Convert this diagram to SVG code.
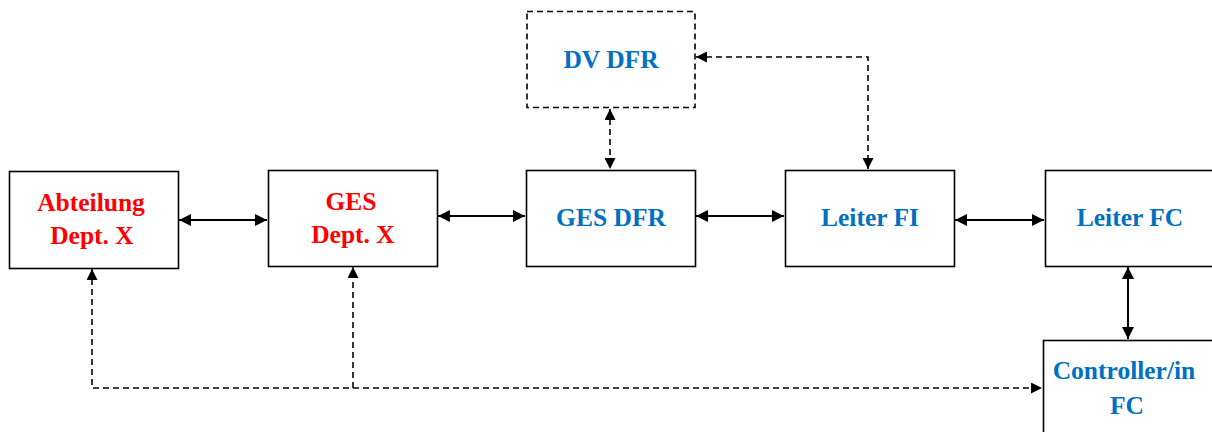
<svg xmlns="http://www.w3.org/2000/svg" width="1212" height="432" viewBox="0 0 1212 432">
  <style>
    .box { fill: #fff; stroke: #000; stroke-width: 1.6; }
    .dbox { fill: #fff; stroke: #000; stroke-width: 1.6; stroke-dasharray: 6 4; }
    .lbl { font-family: "Liberation Serif", "Times New Roman", serif; font-weight: bold; font-size: 25.5px; text-anchor: middle; }
    .red { fill: #ff0000; }
    .blue { fill: #0070c0; }
    .solid { fill: none; stroke: #000; stroke-width: 2; }
    .dash { fill: none; stroke: #000; stroke-width: 1.6; stroke-dasharray: 6 4; }
  </style>
  <defs>
    <marker id="ah" viewBox="0 0 10 10" refX="10" refY="5" markerWidth="11" markerHeight="11" markerUnits="userSpaceOnUse" orient="auto-start-reverse">
      <path d="M0,0 L10,5 L0,10 Z" fill="#000"/>
    </marker>
    <marker id="ahs" viewBox="0 0 10 10" refX="10" refY="5" markerWidth="12" markerHeight="12" markerUnits="userSpaceOnUse" orient="auto-start-reverse">
      <path d="M0,0 L10,5 L0,10 Z" fill="#000"/>
    </marker>
  </defs>

  <g id="connectors">
    <line class="solid" x1="179" y1="220" x2="267" y2="220" marker-start="url(#ahs)" marker-end="url(#ahs)"/>
    <line class="solid" x1="438" y1="216" x2="525" y2="216" marker-start="url(#ahs)" marker-end="url(#ahs)"/>
    <line class="solid" x1="696" y1="216" x2="784" y2="216" marker-start="url(#ahs)" marker-end="url(#ahs)"/>
    <line class="solid" x1="955" y1="220" x2="1044" y2="220" marker-start="url(#ahs)" marker-end="url(#ahs)"/>
    <line class="solid" x1="1128" y1="267" x2="1128" y2="339" marker-start="url(#ahs)" marker-end="url(#ahs)"/>
    <line class="dash" x1="610" y1="109" x2="610" y2="169" marker-start="url(#ah)" marker-end="url(#ah)"/>
    <polyline class="dash" points="696,57 868,57 868,169" marker-start="url(#ah)" marker-end="url(#ah)"/>
    <polyline class="dash" points="92,269 92,388 1042,388" marker-start="url(#ah)" marker-end="url(#ah)"/>
    <line class="dash" x1="353" y1="388" x2="353" y2="267" marker-end="url(#ah)"/>
  </g>

  <g id="abteilung">
    <rect class="box" x="9.5" y="171.5" width="169" height="97"/>
    <text class="lbl red" x="91" y="211">Abteilung</text>
    <text class="lbl red" x="92" y="244">Dept. X</text>
  </g>
  <g id="ges-dept">
    <rect class="box" x="268.5" y="170.5" width="169" height="96"/>
    <text class="lbl red" x="351" y="210">GES</text>
    <text class="lbl red" x="353" y="243">Dept. X</text>
  </g>
  <g id="ges-dfr">
    <rect class="box" x="526.5" y="170.5" width="169" height="96"/>
    <text class="lbl blue" x="611" y="226">GES DFR</text>
  </g>
  <g id="leiter-fi">
    <rect class="box" x="785.5" y="170.5" width="169" height="96"/>
    <text class="lbl blue" x="870" y="226">Leiter FI</text>
  </g>
  <g id="leiter-fc">
    <rect class="box" x="1045.5" y="170.5" width="169" height="96"/>
    <text class="lbl blue" x="1130" y="226">Leiter FC</text>
  </g>
  <g id="dv-dfr">
    <rect class="dbox" x="527" y="11.5" width="168" height="96"/>
    <text class="lbl blue" x="611" y="68">DV DFR</text>
  </g>
  <g id="controller">
    <rect class="box" x="1043.5" y="340.5" width="170" height="95"/>
    <text class="lbl blue" x="1124" y="379">Controller/in</text>
    <text class="lbl blue" x="1127" y="414">FC</text>
  </g>
</svg>
